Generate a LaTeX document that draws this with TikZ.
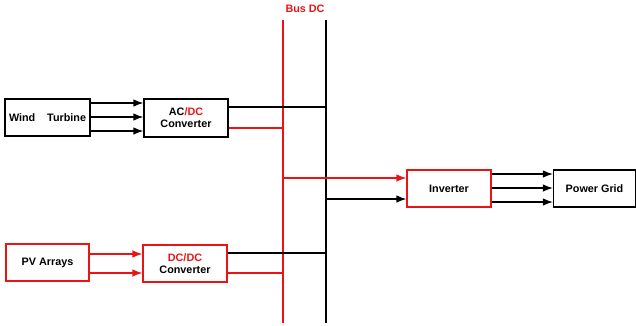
\documentclass[tikz,border=0pt]{standalone}
\usepackage{fontspec}
\setmainfont{Liberation Sans}
\usetikzlibrary{arrows.meta}
\definecolor{busred}{RGB}{235,20,20}
\begin{document}
\begin{tikzpicture}[x=1pt,y=-1pt,
  box/.style={draw=black,line width=1.2pt,inner sep=0pt,font=\bfseries\fontsize{10.8}{12}\selectfont,align=center},
  rbox/.style={box,draw=busred},
  arr/.style={line width=1.2pt,-{Latex[length=10pt,width=7.5pt]}},
  ln/.style={line width=1.2pt},
  bus/.style={line width=1.6pt}]
\useasboundingbox (0,0) rectangle (636,325);
% boxes
\node[box,minimum width=85pt,minimum height=37pt] (wind) at (47.5,117.5) {Wind\hspace{1.1em}Turbine};
\node[box,minimum width=84pt,minimum height=38pt] (acdc) at (186,118) {AC\textcolor{busred}{/DC}\\Converter};
\node[rbox,minimum width=83pt,minimum height=37pt] (pv) at (47.5,262.5) {PV Arrays};
\node[rbox,minimum width=84pt,minimum height=37pt] (dcdc) at (185,263.5) {\textcolor{busred}{DC/DC}\\Converter};
\node[rbox,minimum width=84pt,minimum height=37pt] (inv) at (449,188.5) {Inverter};
\node[box,minimum width=82pt,minimum height=37pt] (grid) at (594.5,188.5) {Power Grid};
% buses
\coordinate (rtop) at (283,20); \coordinate (rbot) at (283,323);
\coordinate (btop) at (326,20); \coordinate (bbot) at (326,323);
\draw[bus,busred] (rtop) -- (rbot);
\draw[bus,black] (btop) -- (bbot);
\node[font=\bfseries\fontsize{10.8}{12}\selectfont,text=busred] (buslbl) at (305,9) {Bus DC};
% wind -> acdc
\foreach \y in {103,117,131}{
  \draw[arr] (wind.east |- 0,\y) -- (acdc.west |- 0,\y);
}
% pv -> dcdc
\foreach \y in {254,273}{
  \draw[arr,busred] (pv.east |- 0,\y) -- (dcdc.west |- 0,\y);
}
% converters to buses
\draw[ln] (acdc.east |- 0,107) -- (btop |- 0,107);
\draw[ln,busred] (acdc.east |- 0,128) -- (rtop |- 0,128);
\draw[ln] (dcdc.east |- 0,253) -- (btop |- 0,253);
\draw[ln,busred] (dcdc.east |- 0,273) -- (rtop |- 0,273);
% buses -> inverter
\draw[arr,busred] (rtop |- 0,178) -- (inv.west |- 0,178);
\draw[arr] (btop |- 0,199) -- (inv.west |- 0,199);
% inverter -> grid
\foreach \y in {174,188,202}{
  \draw[arr] (inv.east |- 0,\y) -- (grid.west |- 0,\y);
}
\end{tikzpicture}
\end{document}
